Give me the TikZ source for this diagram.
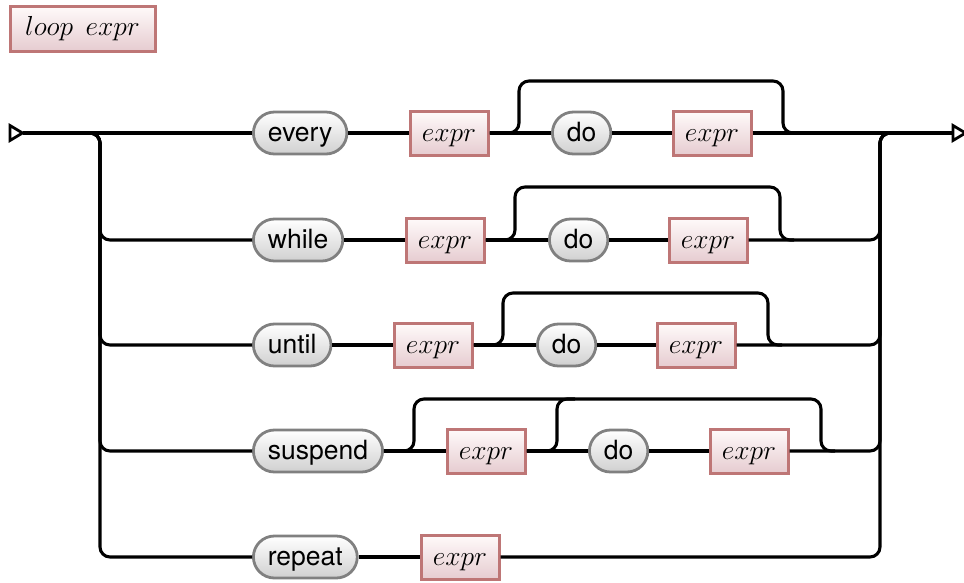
\documentclass[tikz,border=0pt]{standalone}
\usepackage{graphicx}
\usepackage{fontspec}
\setsansfont{TeX Gyre Heros}
\usetikzlibrary{calc}
\newcommand{\ntx}[1]{\scalebox{1.105}{$#1$}}
\definecolor{termborder}{RGB}{128,128,128}
\definecolor{termbot}{RGB}{208,208,208}
\definecolor{ntborder}{RGB}{190,118,118}
\definecolor{nttop}{RGB}{255,250,250}
\definecolor{ntbot}{RGB}{230,204,208}
\tikzset{
  rail/.style={line width=3.1pt, black, rounded corners=10pt},
  term/.style={draw=termborder, line width=2.8pt, top color=white, bottom color=termbot,
    rounded corners=21pt, minimum height=42pt, inner xsep=14.5pt, inner ysep=0pt,
    text height=18pt, text depth=2pt,
    font=\sffamily\fontsize{26.5}{30}\selectfont, anchor=west},
  nterm/.style={draw=ntborder, line width=3pt, top color=nttop, bottom color=ntbot,
    minimum height=44pt, minimum width=78pt, inner sep=0pt,
    text height=18pt, text depth=2pt,
    font=\fontsize{24.88}{30}\selectfont},
  tip/.style={line width=2.8pt, fill=white, line join=miter},
}
\begin{document}
\begin{tikzpicture}[x=1pt,y=-1pt]
\useasboundingbox (0,0) rectangle (964,582);
% title
\node[nterm, minimum width=145pt, minimum height=45pt, text height=20pt, text depth=7pt] (title) at (82.5,28.5) {\ntx{loop}\hspace{0.5em}\ntx{expr}};
% start / end
\draw[tip] (10,125.5) -- (22.5,133) -- (10,140.5) -- cycle;
\coordinate (start) at (22.5,133);
\draw[tip] (953,125.5) -- (965.5,133) -- (953,140.5) -- cycle;
\coordinate (finish) at (953,133);
% row 1
\node[term] (t1) at (252,133) {every};
\node[nterm] (n1a) at (449,133) {\ntx{expr}};
\node[term] (d1) at (551,133) {do};
\node[nterm] (n1b) at (712,133) {\ntx{expr}};
% row 2
\node[term] (t2) at (252,240) {while};
\node[nterm] (n2a) at (445,240) {\ntx{expr}};
\node[term] (d2) at (548,240) {do};
\node[nterm] (n2b) at (708,240) {\ntx{expr}};
% row 3
\node[term] (t3) at (252,345) {until};
\node[nterm] (n3a) at (433,345) {\ntx{expr}};
\node[term] (d3) at (536,345) {do};
\node[nterm] (n3b) at (696,345) {\ntx{expr}};
% row 4
\node[term] (t4) at (252,451) {suspend};
\node[nterm] (n4a) at (486,451) {\ntx{expr}};
\node[term] (d4) at (588,451) {do};
\node[nterm] (n4b) at (749,451) {\ntx{expr}};
% row 5
\node[term] (t5) at (252,557) {repeat};
\node[nterm] (n5a) at (460,557) {\ntx{expr}};
% junction coordinates
\coordinate (ls) at (86,133);
\coordinate (lv1) at (100,133);
\coordinate (rv1) at (880,133);
\coordinate (re) at (894,133);
% row 1 rails
\draw[rail] (start) -- (t1.west);
\draw[rail] (t1.east) -- (n1a.west);
\draw[rail] (n1a.east) -- (d1.west);
\draw[rail] (d1.east) -- (n1b.west);
\draw[rail] (n1b.east) -- (finish);
\draw[rail] (n1a.east) -- (519,133) -- (519,81) -- (783,81) -- (783,133) -- (797,133);
% row 2
\draw[rail] (ls) -- (lv1) -- (100,240) -- (t2.west);
\draw[rail] (t2.east) -- (n2a.west);
\draw[rail] (n2a.east) -- (d2.west);
\draw[rail] (d2.east) -- (n2b.west);
\draw[rail] (n2b.east) -- (880,240) -- (rv1) -- (re);
\draw[rail] (n2a.east) -- (515,240) -- (515,187) -- (780,187) -- (780,240) -- (794,240);
% row 3
\draw[rail] (ls) -- (lv1) -- (100,345) -- (t3.west);
\draw[rail] (t3.east) -- (n3a.west);
\draw[rail] (n3a.east) -- (d3.west);
\draw[rail] (d3.east) -- (n3b.west);
\draw[rail] (n3b.east) -- (880,345) -- (rv1) -- (re);
\draw[rail] (n3a.east) -- (503,345) -- (503,293) -- (768,293) -- (768,345) -- (782,345);
% row 4
\draw[rail] (ls) -- (lv1) -- (100,451) -- (t4.west);
\draw[rail] (t4.east) -- (n4a.west);
\draw[rail] (n4a.east) -- (d4.west);
\draw[rail] (d4.east) -- (n4b.west);
\draw[rail] (n4b.east) -- (880,451) -- (rv1) -- (re);
\draw[rail] (t4.east) -- (414,451) -- (414,399) -- (821,399) -- (821,451) -- (835,451);
\draw[rail] (n4a.east) -- (557,451) -- (557,399) -- (575,399);
% row 5
\draw[rail] (ls) -- (lv1) -- (100,557) -- (t5.west);
\draw[rail] (t5.east) -- (n5a.west);
\draw[rail] (n5a.east) -- (880,557) -- (rv1) -- (re);
\end{tikzpicture}
\end{document}
